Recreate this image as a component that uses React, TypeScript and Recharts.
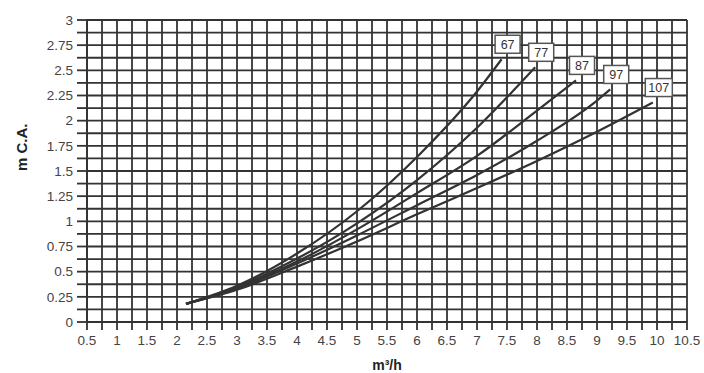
import { CartesianGrid, Line, LineChart, XAxis, YAxis } from 'recharts';

// caudal (m³/h) and pérdida de carga (m C.A.) for each model
const flow67 = [2.15, 3, 4, 5, 6, 7, 7.41];
const head67 = [0.18, 0.36, 0.68, 1.1, 1.64, 2.29, 2.61];
const flow77 = [2.15, 3, 4, 5, 6, 7, 7.97];
const head77 = [0.18, 0.35, 0.63, 0.98, 1.41, 1.93, 2.53];
const flow87 = [2.15, 3, 4, 5, 6, 7, 8, 8.65];
const head87 = [0.18, 0.34, 0.6, 0.92, 1.28, 1.65, 2.1, 2.4];
const flow97 = [2.15, 3, 4, 5, 6, 7, 8, 9, 9.22];
const head97 = [0.18, 0.33, 0.58, 0.86, 1.16, 1.46, 1.8, 2.2, 2.31];
const flow107 = [2.15, 3, 4, 5, 6, 7, 8, 9, 9.93];
const head107 = [0.18, 0.32, 0.55, 0.8, 1.07, 1.33, 1.6, 1.89, 2.18];

const seriesNames = ['67', '77', '87', '97', '107'];
const flows = [flow67, flow77, flow87, flow97, flow107];
const heads = [head67, head77, head87, head97, head107];

const xTicks = Array.from({ length: 41 }, (_, i) => 0.5 + i * 0.25);
const yTicks = Array.from({ length: 25 }, (_, i) => i * 0.125);

const INK = '#333';
const FONT = '"Liberation Sans", Arial, sans-serif';

const series = seriesNames.map((name, s) => ({
  name,
  data: flows[s].map((x, i) => ({ x, y: heads[s][i] })),
}));

function EndLabel(props: any) {
  const { x, y, index, value, count } = props;
  if (index !== count - 1) return null;
  const w = value.length > 2 ? 27 : 25;
  const cx = x + 6;
  const cy = y - 15;
  return (
    <g>
      <rect x={cx - w / 2} y={cy - 9} width={w} height={18} fill="#fff" stroke="#555" strokeWidth={1.5} />
      <text x={cx} y={cy + 4.5} textAnchor="middle" fontSize={12.5} fontFamily={FONT} fill="#333">
        {value}
      </text>
    </g>
  );
}

export default function App() {
  return (
    <div style={{ position: 'absolute', left: 0, top: 0, background: '#fff' }}>
      <LineChart width={704} height={373} margin={{ top: 20, right: 17, left: 0, bottom: 0 }}>
        <CartesianGrid stroke={INK} strokeWidth={1.8} horizontal vertical />
        <XAxis
          type="number"
          dataKey="x"
          domain={[0.5, 10.5]}
          ticks={xTicks}
          interval={0}
          height={51}
          tickSize={8}
          tickMargin={5}
          stroke={INK}
          strokeWidth={1.8}
          tick={{ fill: '#444', fontSize: 13.5, fontFamily: FONT }}
          tickFormatter={(v: number) => (Math.abs(v * 2 - Math.round(v * 2)) < 1e-6 ? String(v) : '')}
          label={{ value: 'm³/h', position: 'insideBottom', offset: 3, fill: '#222', fontSize: 14, fontWeight: 'bold', fontFamily: FONT }}
        />
        <YAxis
          type="number"
          dataKey="y"
          domain={[0, 3]}
          ticks={yTicks}
          interval={0}
          width={87}
          tickSize={10}
          tickMargin={4}
          stroke={INK}
          strokeWidth={1.8}
          tick={{ fill: '#444', fontSize: 13.5, fontFamily: FONT }}
          tickFormatter={(v: number) => (Math.abs(v * 4 - Math.round(v * 4)) < 1e-6 ? String(v) : '')}
          label={{ value: 'm C.A.', angle: -90, position: 'insideLeft', offset: 22, fill: '#222', fontSize: 15, fontWeight: 'bold', fontFamily: FONT }}
        />
        {series.map((s) => (
          <Line
            key={s.name}
            data={s.data}
            dataKey="y"
            type="monotone"
            stroke="#333"
            strokeWidth={2.2}
            dot={false}
            isAnimationActive={false}
            label={(p: any) => <EndLabel {...p} value={s.name} count={s.data.length} />}
          />
        ))}
      </LineChart>
    </div>
  );
}
